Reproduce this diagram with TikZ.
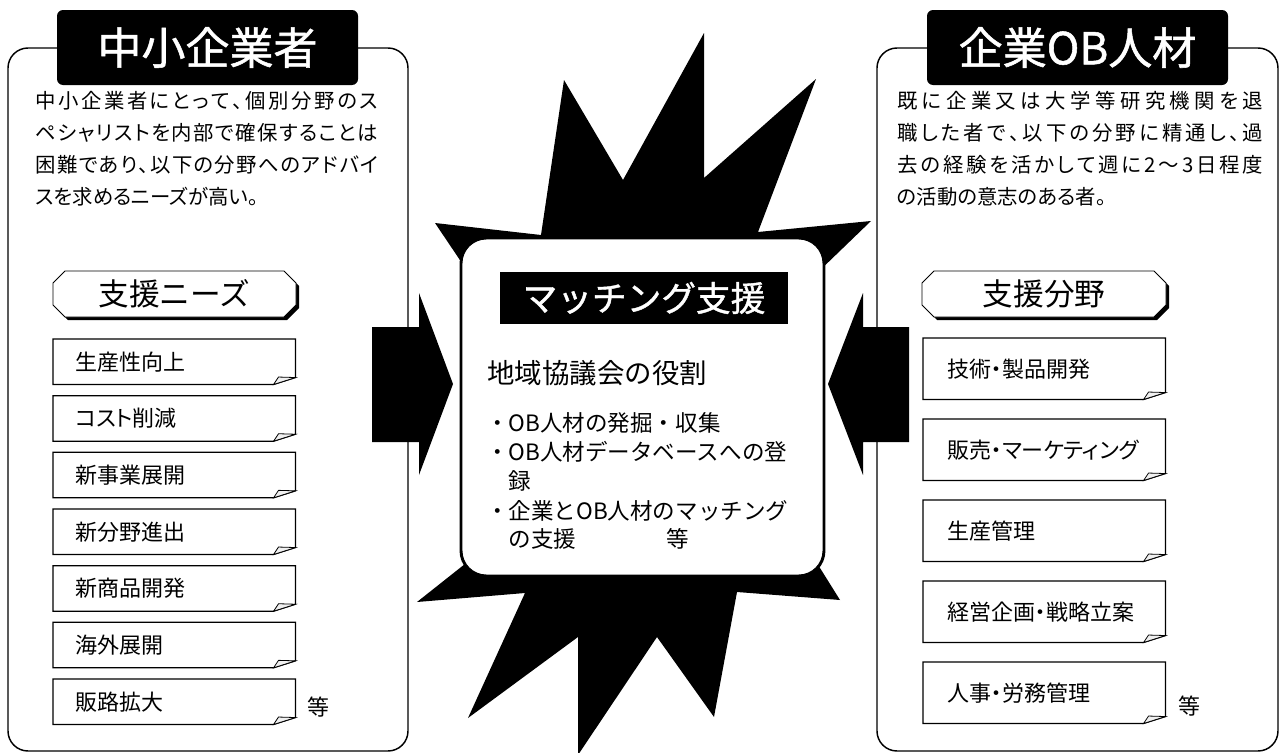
\documentclass[tikz,border=0pt]{standalone}
\usepackage{fontspec}
\setmainfont{Noto Sans CJK JP}
\newfontfamily\pfont[RawFeature=+palt]{Noto Sans CJK JP}
\newfontfamily\tfont[FakeBold=1.2]{Noto Sans CJK JP}
\usetikzlibrary{calc}
\makeatletter
\def\spreadchars#1{\ifx#1\relax\else#1\hfil\expandafter\spreadchars\fi}
\newcommand\spreadto[2]{\makebox[#1][s]{\spreadchars#2\relax\unskip}}
\makeatother
\tikzset{
  panel/.style={draw=black,line width=1.1pt,rounded corners=15pt},
  titlebox/.style={fill=black,rounded corners=4.5pt,text=white,inner sep=0pt,
    minimum width=225.75pt,minimum height=56.25pt,font=\tfont\fontsize{33}{36}\selectfont},
  bodytext/.style={anchor=west,inner sep=0pt,font=\pfont\fontsize{15.3}{18}\selectfont},
  fb/.style={anchor=north west,inner ysep=0pt,inner xsep=16.5pt,align=left,
    text width=148.5pt,font=\pfont\fontsize{16.5}{19}\selectfont},
  boxline/.style={draw=black,line width=0.9pt,line join=miter},
  tagtext/.style={inner sep=0pt,font=\fontsize{23}{26}\selectfont},
  etc/.style={inner sep=0pt,font=\fontsize{16.5}{19}\selectfont},
  bul/.style={anchor=west,inner sep=0pt,font=\fontsize{16.9}{20}\selectfont},
}
\newcommand\mkfold[6]{%
  \node[fb,minimum height=#5,#6] (#1) at (#2,#3) {#4};
  \draw[boxline] (#1.north west) -- (#1.north east) -- ($(#1.south east)+(0,-7)$)
     -- ($(#1.south east)+(-22,0)$) -- (#1.south west) -- cycle;
  \draw[black,line width=0.6pt,fill=gray!12] ($(#1.south east)+(-22,0)$) -- ($(#1.south east)+(-17,-7.5)$)
     -- ($(#1.south east)+(0,-7)$) -- cycle;
}
\newcommand\mktag[4]{%
  \fill[black] (#2+15,274) -- (#3-9,274) -- (#3+3,286) -- (#3+3,308) -- (#3-9,320)
     -- (#2+15,320) -- (#2+3,308) -- (#2+3,286) -- cycle;
  \draw[black,line width=0.6pt,fill=white] (#2+12,271) -- (#3-12,271) -- (#3,283) -- (#3,305)
     -- (#3-12,317) -- (#2+12,317) -- (#2,305) -- (#2,283) -- cycle;
  \node[tagtext] (#1) at ({(#2+#3)/2},294) {#4};
}
\begin{document}
\begin{tikzpicture}[x=0.75pt,y=-0.75pt]
\useasboundingbox (0,0) rectangle (1279,753);
\fill[white] (0,0) rectangle (1279,753);

% panels
\draw[panel] (8,48) rectangle (408,751);
\draw[panel] (877,48) rectangle (1278,751);
\node[titlebox] (tleft) at (207.5,47.5) {中小企業者};
\node[titlebox] (tright) at (1077.5,47.5) {企業OB人材};

% left body text
\node[bodytext] (l1) at (35,101) {\spreadto{257.25pt}{中小企業者にとって、個別分野のス}};
\node[bodytext] (l2) at (35,133) {\spreadto{257.25pt}{ペシャリストを内部で確保することは}};
\node[bodytext] (l3) at (35,165) {\spreadto{257.25pt}{困難であり、以下の分野へのアドバイ}};
\node[bodytext] (l4) at (35,197) {スを求めるニーズが高い。};

% right body text
\node[bodytext] (r1) at (897,101) {\spreadto{274.5pt}{既に企業又は大学等研究機関を退}};
\node[bodytext] (r2) at (897,133) {\spreadto{274.5pt}{職した者で、以下の分野に精通し、過}};
\node[bodytext] (r3) at (897,165) {\spreadto{274.5pt}{去の経験を活かして週に2〜3日程度}};
\node[bodytext] (r4) at (897,197) {の活動の意志のある者。};

% tags
\mktag{tagl}{53}{296}{支援ニーズ}
\mktag{tagr}{922}{1166}{支援分野}

% left list
\mkfold{n1}{53}{339}{生産性向上}{33.75pt}{}
\mkfold{n2}{53}{395.7}{コスト削減}{33.75pt}{}
\mkfold{n3}{53}{452.3}{新事業展開}{33.75pt}{}
\mkfold{n4}{53}{509}{新分野進出}{33.75pt}{}
\mkfold{n5}{53}{565.7}{新商品開発}{33.75pt}{}
\mkfold{n6}{53}{622.3}{海外展開}{33.75pt}{}
\mkfold{n7}{53}{679}{販路拡大}{33.75pt}{}
\node[etc] (etcl) at (318,707) {等};

% right list
\mkfold{f1}{923}{338}{技術・製品開発}{45.75pt}{inner xsep=18pt,text width=145.5pt}
\mkfold{f2}{923}{419}{販売・マーケティング}{45.75pt}{inner xsep=18pt,text width=145.5pt}
\mkfold{f3}{923}{500}{生産管理}{45.75pt}{inner xsep=18pt,text width=145.5pt}
\mkfold{f4}{923}{581}{経営企画・戦略立案}{45.75pt}{inner xsep=18pt,text width=145.5pt}
\mkfold{f5}{923}{662}{人事・労務管理}{45.75pt}{inner xsep=18pt,text width=145.5pt}
\node[etc] (etcr) at (1189,706) {等};

% star burst
\fill[black] (435,223) -- (541,235) -- (564,80) -- (623,180) -- (704,33) -- (704,178)
  -- (816,79) -- (758,232) -- (871,221) -- (815,275) -- (815,560) -- (840,600)
  -- (737,592) -- (714,717) -- (657,637) -- (578,755) -- (578,637) -- (468,718)
  -- (525,593) -- (417,602) -- (470,560) -- (470,275) -- cycle;

% block arrows
\fill[black] (372,327) -- (419,327) -- (419,293) -- (453,384) -- (419,475) -- (419,442) -- (372,442) -- cycle;
\fill[black] (909,327) -- (863,327) -- (863,293) -- (828,384) -- (863,475) -- (863,442) -- (909,442) -- cycle;

% center box
\node[draw=black,line width=2.2pt,fill=white,rounded corners=19pt,minimum width=272.25pt,
  minimum height=253.5pt,inner sep=0pt] (mbox) at (642.5,407) {};
\node[fill=black,text=white,inner sep=0pt,minimum width=216pt,minimum height=39pt,
  font=\tfont\fontsize{26}{28}\selectfont] (mtitle) at (644,298) {マッチング支援};
\node[anchor=west,inner sep=0pt,font=\fontsize{20.6}{23}\selectfont] (role) at (487,373) {地域協議会の役割};
\node[bul] (b1) at (486,423) {・OB人材の発掘・収集};
\node[bul] (b2) at (486,452) {・OB人材データベースへの登};
\node[bul] (b2b) at (508.5,481) {録};
\node[bul] (b3) at (486,511) {・企業とOB人材のマッチング};
\node[bul] (b3b) at (508.5,539) {の支援\hspace{4em}等};
\end{tikzpicture}
\end{document}
